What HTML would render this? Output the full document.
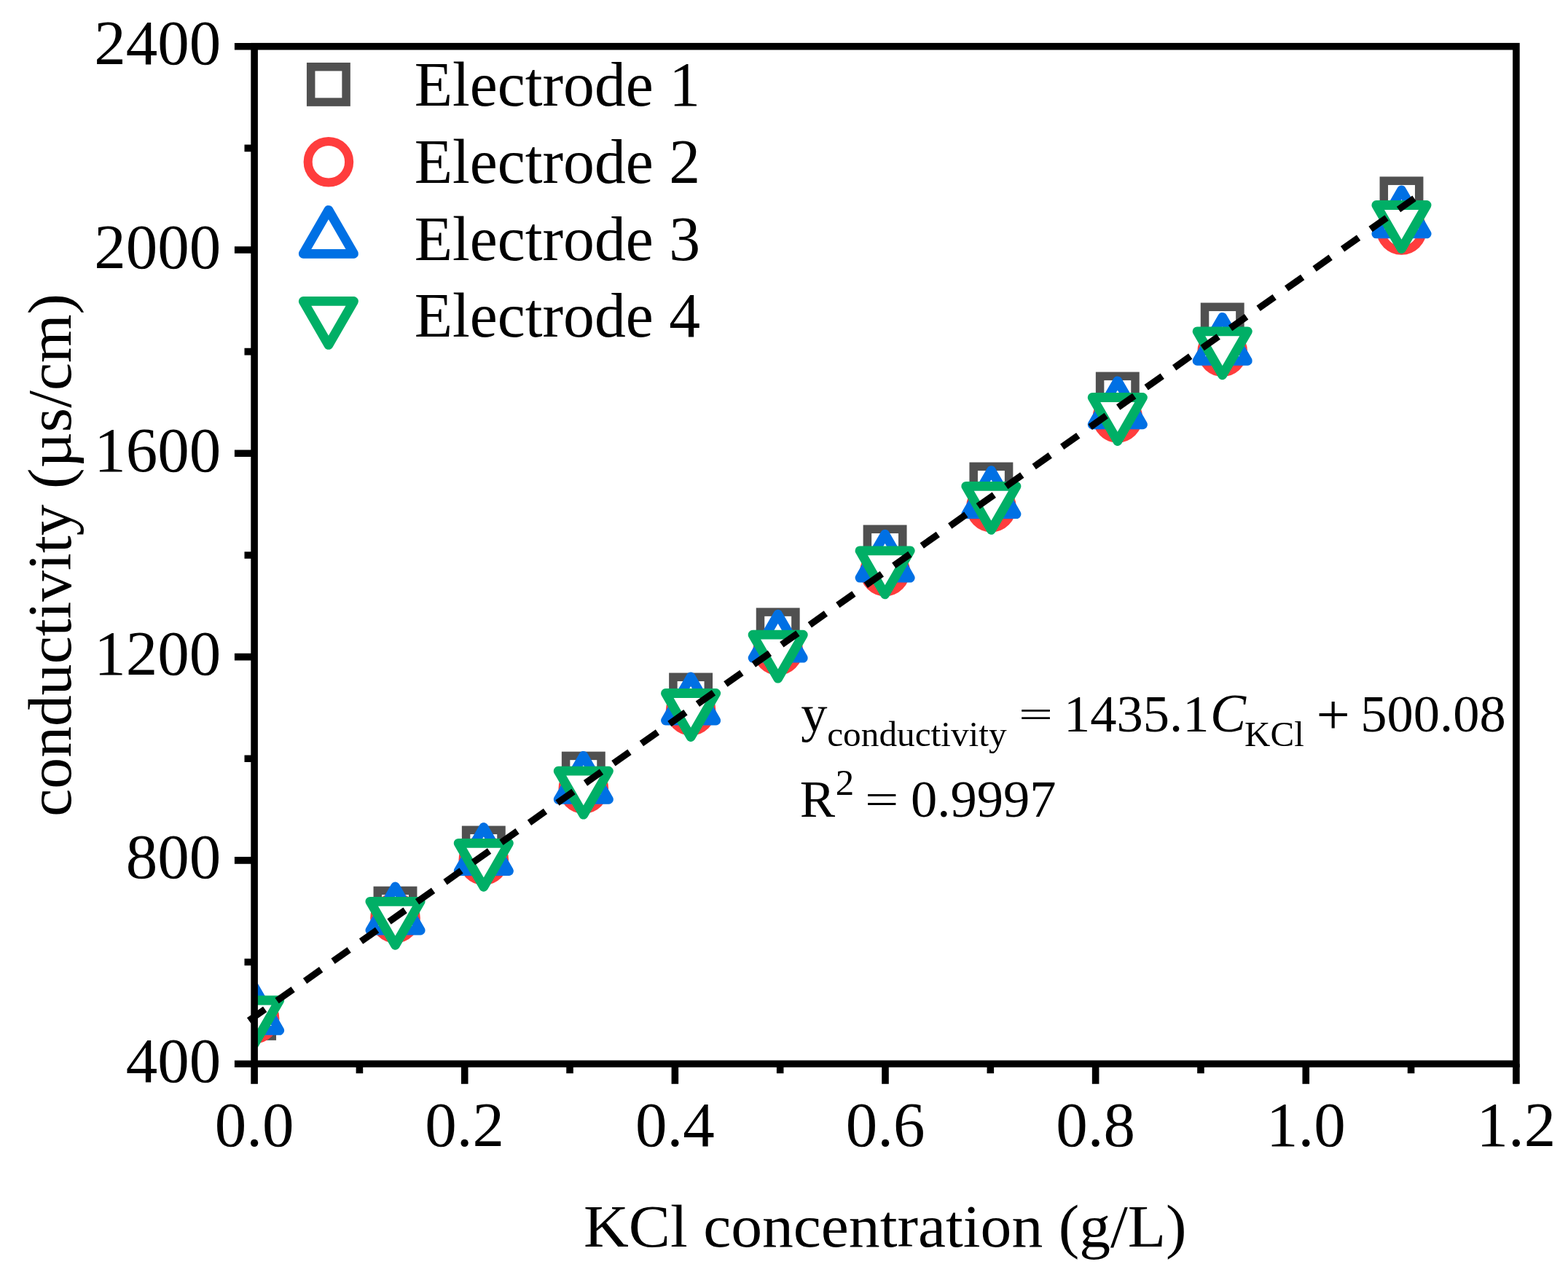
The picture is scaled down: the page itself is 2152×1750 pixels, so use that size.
<!DOCTYPE html>
<html><head><meta charset="utf-8"><title>KCl conductivity calibration</title>
<style>html,body{margin:0;padding:0;background:#fff;}svg{display:block;}</style>
</head><body>
<svg width="2152" height="1750" viewBox="0 0 2152 1750">
<rect width="2152" height="1750" fill="#fff"/>
<defs><clipPath id="pa"><rect x="349.1" y="63.7" width="1731.80" height="1396.50"/></clipPath></defs>
<g clip-path="url(#pa)">
<g fill="#fff" stroke="#505050" stroke-width="11.5" stroke-linejoin="miter"><rect x="324.90" y="1373.70" width="48.40" height="48.40"/><rect x="518.30" y="1222.40" width="48.40" height="48.40"/><rect x="639.60" y="1139.30" width="48.40" height="48.40"/><rect x="776.60" y="1037.40" width="48.40" height="48.40"/><rect x="923.90" y="929.30" width="48.40" height="48.40"/><rect x="1043.50" y="840.10" width="48.40" height="48.40"/><rect x="1190.40" y="726.30" width="48.40" height="48.40"/><rect x="1336.20" y="640.30" width="48.40" height="48.40"/><rect x="1509.60" y="516.30" width="48.40" height="48.40"/><rect x="1653.50" y="421.30" width="48.40" height="48.40"/><rect x="1899.30" y="248.20" width="48.40" height="48.40"/></g>
<g fill="#fff" stroke="#FF3D3D" stroke-width="12.1"><circle cx="349.10" cy="1398.00" r="28.25"/><circle cx="542.50" cy="1260.00" r="28.25"/><circle cx="663.80" cy="1180.60" r="28.25"/><circle cx="800.80" cy="1082.60" r="28.25"/><circle cx="948.10" cy="975.30" r="28.25"/><circle cx="1067.70" cy="892.60" r="28.25"/><circle cx="1214.60" cy="784.00" r="28.25"/><circle cx="1360.40" cy="696.10" r="28.25"/><circle cx="1533.80" cy="573.30" r="28.25"/><circle cx="1677.70" cy="482.60" r="28.25"/><circle cx="1923.50" cy="315.50" r="28.25"/></g>
<g fill="#fff" stroke="#0070E4" stroke-width="12.8" stroke-linejoin="round"><polygon points="349.10,1354.40 383.74,1414.40 314.46,1414.40"/><polygon points="542.50,1217.00 577.14,1277.00 507.86,1277.00"/><polygon points="663.80,1135.50 698.44,1195.50 629.16,1195.50"/><polygon points="800.80,1037.30 835.44,1097.30 766.16,1097.30"/><polygon points="948.10,929.00 982.74,989.00 913.46,989.00"/><polygon points="1067.70,843.10 1102.34,903.10 1033.06,903.10"/><polygon points="1214.60,733.10 1249.24,793.10 1179.96,793.10"/><polygon points="1360.40,645.60 1395.04,705.60 1325.76,705.60"/><polygon points="1533.80,522.80 1568.44,582.80 1499.16,582.80"/><polygon points="1677.70,435.30 1712.34,495.30 1643.06,495.30"/><polygon points="1923.50,260.90 1958.14,320.90 1888.86,320.90"/></g>
<g fill="#fff" stroke="#00AF66" stroke-width="12.8" stroke-linejoin="round"><polygon points="349.10,1433.00 383.74,1373.00 314.46,1373.00"/><polygon points="542.50,1297.30 577.14,1237.30 507.86,1237.30"/><polygon points="663.80,1217.30 698.44,1157.30 629.16,1157.30"/><polygon points="800.80,1118.20 835.44,1058.20 766.16,1058.20"/><polygon points="948.10,1011.50 982.74,951.50 913.46,951.50"/><polygon points="1067.70,931.20 1102.34,871.20 1033.06,871.20"/><polygon points="1214.60,815.90 1249.24,755.90 1179.96,755.90"/><polygon points="1360.40,727.40 1395.04,667.40 1325.76,667.40"/><polygon points="1533.80,605.50 1568.44,545.50 1499.16,545.50"/><polygon points="1677.70,514.80 1712.34,454.80 1643.06,454.80"/><polygon points="1923.50,341.50 1958.14,281.50 1888.86,281.50"/></g>
</g>
<rect x="349.1" y="63.7" width="1731.80" height="1396.50" fill="none" stroke="#000" stroke-width="9.6"/>
<path d="M349.10 1460.20V1487.80M493.42 1460.20V1473.20M637.73 1460.20V1487.80M782.05 1460.20V1473.20M926.37 1460.20V1487.80M1070.68 1460.20V1473.20M1215.00 1460.20V1487.80M1359.32 1460.20V1473.20M1503.63 1460.20V1487.80M1647.95 1460.20V1473.20M1792.27 1460.20V1487.80M1936.58 1460.20V1473.20M2080.90 1460.20V1487.80M349.10 1460.20H321.90M349.10 1320.55H335.50M349.10 1180.90H321.90M349.10 1041.25H335.50M349.10 901.60H321.90M349.10 761.95H335.50M349.10 622.30H321.90M349.10 482.65H335.50M349.10 343.00H321.90M349.10 203.35H335.50M349.10 63.70H321.90" stroke="#000" stroke-width="9.6" fill="none"/>
<path d="M341.6 1400.7L1941.0 272.3" stroke="#000" stroke-width="9.2" stroke-dasharray="27 20.1" fill="none"/>
<g fill="#fff" stroke="#505050" stroke-width="11.5"><rect x="426.70" y="91.70" width="48.40" height="48.40"/></g>
<g fill="#fff" stroke="#FF3D3D" stroke-width="12.1"><circle cx="450.90" cy="222.20" r="28.25"/></g>
<g fill="#fff" stroke="#0070E4" stroke-width="12.8" stroke-linejoin="round"><polygon points="450.90,288.30 485.54,348.30 416.26,348.30"/></g>
<g fill="#fff" stroke="#00AF66" stroke-width="12.8" stroke-linejoin="round"><polygon points="450.90,473.45 485.54,413.45 416.26,413.45"/></g>
<g font-family="Liberation Serif, Times New Roman, serif" fill="#000"><text x="303.30" y="1484.70" font-size="87.0" text-anchor="end">400</text><text x="303.30" y="1205.40" font-size="87.0" text-anchor="end">800</text><text x="303.30" y="926.10" font-size="87.0" text-anchor="end">1200</text><text x="303.30" y="646.80" font-size="87.0" text-anchor="end">1600</text><text x="303.30" y="367.50" font-size="87.0" text-anchor="end">2000</text><text x="303.30" y="88.20" font-size="87.0" text-anchor="end">2400</text><text x="349.10" y="1573.20" font-size="87.0" text-anchor="middle">0.0</text><text x="637.73" y="1573.20" font-size="87.0" text-anchor="middle">0.2</text><text x="926.37" y="1573.20" font-size="87.0" text-anchor="middle">0.4</text><text x="1215.00" y="1573.20" font-size="87.0" text-anchor="middle">0.6</text><text x="1503.63" y="1573.20" font-size="87.0" text-anchor="middle">0.8</text><text x="1792.27" y="1573.20" font-size="87.0" text-anchor="middle">1.0</text><text x="2080.90" y="1573.20" font-size="87.0" text-anchor="middle">1.2</text><text transform="translate(568.65 144.90) scale(1.0000 1.0100)" x="0" y="0" font-size="85.66">Electrode 1</text><text transform="translate(568.65 250.73) scale(1.0000 1.0100)" x="0" y="0" font-size="85.66">Electrode 2</text><text transform="translate(568.65 356.56) scale(1.0000 1.0100)" x="0" y="0" font-size="85.66">Electrode 3</text><text transform="translate(568.65 462.39) scale(1.0000 1.0100)" x="0" y="0" font-size="85.66">Electrode 4</text><text transform="translate(801.00 1710.80) scale(1.0000 0.9650)" x="0" y="0" font-size="85.66">KCl concentration (g/L)</text><text x="1099.32" y="1004.10" font-size="72.5">y</text><text x="1135.22" y="1024.30" font-size="49.3">conductivity</text><text transform="translate(1421.50 980.40) scale(1.1502 0.7172)" x="-20.48" y="24.07" font-size="72.5">=</text><text x="1460.10" y="1004.10" font-size="72.5">1435.1</text><text x="1661.01" y="1004.10" font-size="73.5" font-style="italic">C</text><text x="1708.09" y="1023.60" font-size="49.0">KCl</text><text transform="translate(1829.65 980.50) scale(1.1353 1.0838)" x="-20.48" y="24.07" font-size="72.5">+</text><text x="1867.30" y="1004.10" font-size="72.5">500.08</text><text x="1097.81" y="1121.20" font-size="72.5">R</text><text x="1146.86" y="1091.30" font-size="51.0">2</text><text transform="translate(1210.35 1096.90) scale(1.1353 0.8166)" x="-20.48" y="24.07" font-size="72.5">=</text><text x="1250.00" y="1120.80" font-size="72.5">0.9997</text><text transform="translate(96.6 1120.66) rotate(-90)" x="0" y="0" font-size="85.66">conductivity (µs/cm)</text></g>
</svg>
</body></html>
